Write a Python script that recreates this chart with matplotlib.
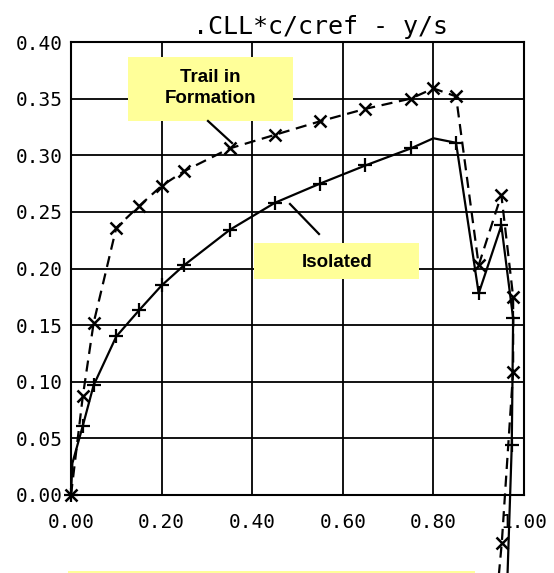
import matplotlib
matplotlib.use("Agg")
import matplotlib.pyplot as plt
from matplotlib.patches import Rectangle
from matplotlib.lines import Line2D

# span position y/s and CLL*c/cref
iso_x = [0.0, 0.003, 0.026, 0.05, 0.10, 0.15, 0.20, 0.25, 0.35, 0.45, 0.55,
         0.65, 0.75, 0.80, 0.85, 0.90, 0.95, 0.976, 0.973, 0.962]
iso_y = [0.0, 0.028, 0.061, 0.097, 0.140, 0.163, 0.185, 0.203, 0.234, 0.258,
         0.275, 0.291, 0.306, 0.315, 0.311, 0.178, 0.238, 0.156, 0.044, -0.09]

trail_x = [0.0, 0.026, 0.05, 0.10, 0.15, 0.20, 0.25, 0.35, 0.45, 0.55, 0.65,
           0.75, 0.80, 0.85, 0.90, 0.95, 0.976, 0.976, 0.951, 0.94]
trail_y = [0.0, 0.087, 0.152, 0.236, 0.255, 0.273, 0.286, 0.306, 0.318,
           0.330, 0.341, 0.350, 0.359, 0.352, 0.203, 0.265, 0.175, 0.109,
           -0.042, -0.09]

xticks = [0.0, 0.2, 0.4, 0.6, 0.8, 1.0]
yticks = [0.0, 0.05, 0.10, 0.15, 0.20, 0.25, 0.30, 0.35, 0.40]

W, H = 554, 573
yellow = "#ffff99"
mono = "DejaVu Sans Mono"


def fx(px):
    return px / W


def fy(py):
    return 1 - py / H


fig = plt.figure(figsize=(W / 100, H / 100), dpi=100)
ax = fig.add_axes([fx(71), fy(495), fx(524) - fx(71), fy(42) - fy(495)])

ax.set_xlim(0, 1.0)
ax.set_ylim(0, 0.40)
ax.set_xticks(xticks)
ax.set_yticks(yticks)
ax.set_xticklabels([f"{t:.2f}" for t in xticks], fontfamily=mono, fontsize=14)
ax.set_yticklabels([f"{t:.2f}" for t in yticks], fontfamily=mono, fontsize=14)
ax.tick_params(axis="x", length=0, pad=13)
ax.tick_params(axis="y", length=0, pad=6)
ax.grid(True, color="black", lw=1.3)
for s in ax.spines.values():
    s.set_linewidth(1.5)

# isolated: solid with + markers (no marker at the tip point / off-plot)
iso_marks = [i for i in range(len(iso_x)) if i not in (1, 13, len(iso_x) - 1)]
ax.plot(iso_x, iso_y, color="black", lw=1.6, marker="+", ms=10, mew=1.6,
        markevery=iso_marks, clip_on=False, zorder=5)
trail_marks = list(range(len(trail_x) - 1))
ax.plot(trail_x, trail_y, color="black", lw=1.6, ls=(0, (5, 3)), marker="x",
        ms=9, mew=1.8, markevery=trail_marks, clip_on=False, zorder=5)

ax.set_title(".CLL*c/cref - y/s", fontfamily=mono, fontsize=18, pad=6, x=0.55)

# callout boxes
for (x0, y0, x1, y1) in [(128, 57, 293, 121), (254, 243, 419, 279),
                         (68, 571, 475, 576)]:
    fig.patches.append(Rectangle((fx(x0), fy(y1)), fx(x1) - fx(x0),
                                 fy(y0) - fy(y1), transform=fig.transFigure,
                                 facecolor=yellow, edgecolor="none", zorder=6))
fig.text(fx(210), fy(88), "Trail in\nFormation", ha="center", va="center",
         fontfamily="Liberation Sans", fontweight="bold", fontsize=13.5,
         linespacing=1.25, zorder=7)
fig.text(fx(337), fy(262), "Isolated", ha="center", va="center",
         fontfamily="Liberation Sans", fontweight="bold", fontsize=13.5,
         zorder=7)

# leader lines
for (ax0, ay0, ax1, ay1) in [(208, 121, 232, 143), (290, 204, 319, 234)]:
    fig.lines.append(Line2D([fx(ax0), fx(ax1)], [fy(ay0), fy(ay1)],
                            transform=fig.transFigure, color="black", lw=1.6,
                            zorder=7))

fig.savefig("out.png", dpi=100)
